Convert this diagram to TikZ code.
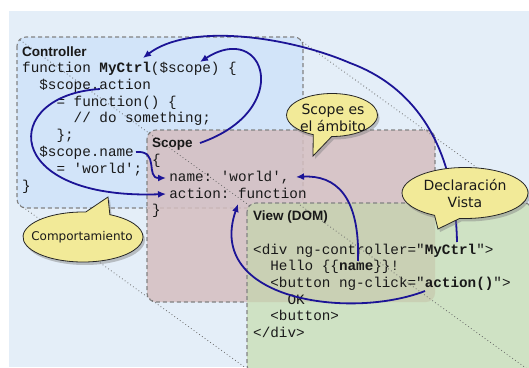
\documentclass[tikz,border=0pt]{standalone}
\usepackage{fontspec}
\setmainfont{Liberation Sans}
\setmonofont{Liberation Mono}
\newfontfamily\bubblefont{DejaVu Sans}
\usetikzlibrary{arrows.meta,shapes.callouts,shadows}

\definecolor{bgblue}{RGB}{228,238,248}
\definecolor{ctrlfill}{RGB}{210,228,249}
\definecolor{scopefill}{RGB}{213,190,192}
\definecolor{viewfill}{RGB}{207,226,196}
\definecolor{overlapfill}{RGB}{201,208,180}
\definecolor{linkblue}{RGB}{28,20,150}
\definecolor{bubblefill}{RGB}{242,234,152}
\definecolor{framegray}{RGB}{130,130,130}

\begin{document}
\begin{tikzpicture}[x=1pt,y=-1pt,
  panel/.style={draw=framegray, line width=1.1pt, dash pattern=on 4pt off 3pt, rounded corners=9pt},
  guide/.style={draw=black!60, line width=0.8pt, dash pattern=on 0.8pt off 2.6pt},
  code/.style={anchor=base west, inner sep=0pt, font=\ttfamily\fontsize{14.3}{17}\selectfont, text=black!90},
  paneltitle/.style={anchor=base west, inner sep=0pt, font=\bfseries\fontsize{13.5}{16}\selectfont, text=black!90},
  link/.style={draw=linkblue, line width=1.8pt, -{Latex[length=8pt,width=7pt]}},
  bubble/.style={ellipse callout, draw=black!85, line width=0.8pt, fill=bubblefill, inner sep=0pt,
    callout pointer arc=24, drop shadow={shadow xshift=2pt, shadow yshift=-3pt, opacity=0.45}},
  bubbletext/.style={align=center, inner sep=0pt, font=\bubblefont\fontsize{14}{17}\selectfont, text=black!90}
]
\useasboundingbox (0,0) rectangle (529,367);
\def\cw{8.58}

\begin{scope}
  \clip (9,11) rectangle (529,367);
  \fill[bgblue] (9,11) rectangle (529,367);

  % the three panels
  \path[panel, fill=ctrlfill] (17,37) rectangle (303,208);
  \path[panel, fill=scopefill, fill opacity=0.85] (147,130) rectangle (435,302);
  \fill[viewfill, rounded corners=9pt] (247,203) rectangle (533,374);
  \begin{scope}
    \clip[rounded corners=9pt] (147,130) rectangle (435,302);
    \fill[overlapfill, rounded corners=9pt] (247,203) rectangle (533,374);
  \end{scope}
  \path[panel] (247,203) rectangle (533,374);

  % perspective guides through matching corners
  \draw[guide] (20,40) -- (250,206);
  \draw[guide] (300,40) -- (530,206);
  \draw[guide] (20,205) -- (250,371);
  \draw[guide] (300,205) -- (530,371);

  % controller code
  \node[paneltitle] (ctrltitle) at (22,56) {Controller};
  \node[code] (c1) at (22,72) {function \textbf{MyCtrl}(\$scope) \{};
  \node[code] (c2) at (22+2*\cw,89) {\$scope.action};
  \node[code] (c3) at (22+4*\cw,106) {= function() \{};
  \node[code] (c4) at (22+6*\cw,122.5) {// do something;};
  \node[code] (c5) at (22+4*\cw,139.5) {\};};
  \node[code] (c6) at (22+2*\cw,156.5) {\$scope.name};
  \node[code] (c7) at (22+4*\cw,173) {= 'world';};
  \node[code] (c8) at (22,190) {\}};

  % scope object
  \node[paneltitle] (scopetitle) at (152,147) {Scope};
  \node[code] (s1) at (152,164) {\{};
  \node[code] (s2) at (152+2*\cw,181) {name: 'world',};
  \node[code] (s3) at (152+2*\cw,198) {action: function};
  \node[code] (s4) at (152,214.5) {\}};

  % view markup
  \node[paneltitle] (viewtitle) at (253,220.7) {View (DOM)};
  \node[code] (v1) at (253,254) {<div ng-controller="\textbf{MyCtrl}">};
  \node[code] (v2) at (253+2*\cw,270.7) {Hello \{\{\textbf{name}\}\}!};
  \node[code] (v3) at (253+2*\cw,287.3) {<button ng-click="\textbf{action()}">};
  \node[code] (v4) at (253+4*\cw,304) {OK};
  \node[code] (v5) at (253+2*\cw,320.7) {<button>};
  \node[code] (v6) at (253,337.4) {</div>};

  % link end points
  \coordinate (divctrl) at (457,242);
  \coordinate (ctrlname) at (143,58);
  \coordinate (scopehead) at (200,143);
  \coordinate (paramscope) at (200,62);
  \coordinate (actiondef) at (100,89);
  \coordinate (scopeaction) at (166,194);
  \coordinate (namedef) at (136,152);
  \coordinate (scopename) at (166,178);
  \coordinate (helloname) at (358,261);
  \coordinate (scopeworld) at (296,177);
  \coordinate (clickaction) at (425,291);
  \coordinate (scopefunc) at (238,204);

  % links
  \draw[link] (divctrl) .. controls (455,140) and (410,85) .. (350,63)
              .. controls (290,37) and (190,22) .. (ctrlname);
  \draw[link] (scopehead) .. controls (295,110) and (265,20) .. (paramscope);
  \draw[link] (actiondef) .. controls (0,95) and (0,200) .. (scopeaction);
  \draw[link] (namedef) .. controls (160,150) and (145,178) .. (scopename);
  \draw[link] (helloname) .. controls (360,195) and (335,175) .. (scopeworld);
  \draw[link] (clickaction) .. controls (350,320) and (205,300) .. (scopefunc);

  % callouts
  \node[bubble, minimum width=91pt, minimum height=43pt,
        callout absolute pointer={(313,156)}] (scopebubble) at (332,115) {};
  \node[bubbletext] at (333,118) {Scope es\\el ámbito};

  \node[bubble, minimum width=126pt, minimum height=51pt,
        callout absolute pointer={(438,229)}] (viewbubble) at (465,193) {};
  \node[bubbletext] at (465,193) {Declaración\\Vista};

  \node[bubble, minimum width=120pt, minimum height=50pt,
        callout absolute pointer={(108,197)}] (behbubble) at (83,237) {};
  \node[bubbletext, font=\bubblefont\fontsize{12}{14}\selectfont] at (82,237) {Comportamiento};
\end{scope}
\end{tikzpicture}
\end{document}
